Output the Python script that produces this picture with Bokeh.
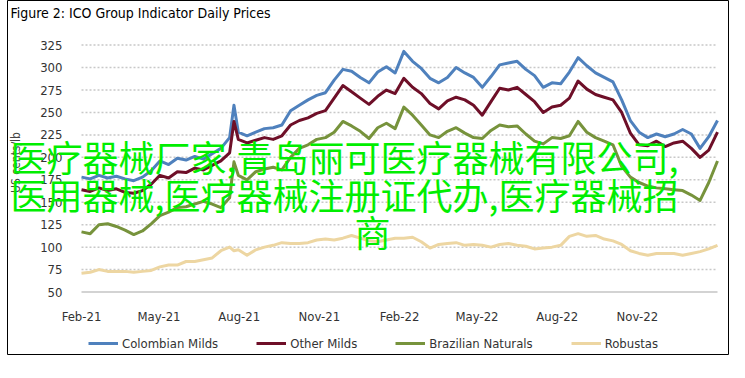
import math
import pandas as pd
from bokeh.plotting import figure
from bokeh.models import (Range1d, FixedTicker, DatetimeTickFormatter, Legend,
                          LegendItem, Label, ColumnDataSource)
from bokeh.embed import file_html
from bokeh.resources import INLINE

# ---------------- data (US cents/lb) ----------------
dates = list(pd.date_range("2021-02-01", periods=74, freq="10D"))
dates.insert(18, pd.Timestamp("2021-07-26"))

colombian_milds = [178, 176, 180, 177, 179, 176, 174, 178, 185, 196, 192, 199, 197, 201, 198, 204, 210, 222,
                   258,
                   228, 224, 228, 232, 233, 236, 252, 258, 264, 269, 272, 286, 298, 296, 289, 283, 295, 301,
                   294, 318, 307, 299, 288, 283, 289, 300, 294, 289, 278, 290, 303, 305, 307, 298, 291, 278,
                   283, 282, 295, 311, 302, 294, 289, 284, 264, 241, 228, 222, 226, 223, 226, 231, 226, 210,
                   223, 241]
other_milds = [164, 162, 166, 163, 165, 161, 160, 163, 170, 180, 177, 184, 183, 188, 186, 191, 196, 205,
               240,
               220, 216, 219, 222, 220, 224, 236, 241, 244, 249, 252, 266, 280, 273, 266, 259, 268, 275,
               271, 288, 278, 271, 260, 254, 263, 267, 264, 258, 247, 262, 277, 275, 278, 270, 262, 250,
               256, 258, 266, 285, 276, 270, 267, 264, 250, 227, 214, 213, 218, 212, 216, 218, 210, 200,
               208, 228]
brazilian_naturals = [117, 115, 125, 126, 123, 119, 114, 118, 126, 135, 139, 144, 145, 148, 151, 148, 144, 155,
                      195,
                      180, 175, 184, 187, 189, 186, 200, 210, 214, 220, 222, 228, 240, 235, 229, 221, 233, 238,
                      232, 256, 247, 236, 225, 222, 229, 233, 227, 222, 221, 230, 236, 234, 235, 226, 218, 215,
                      222, 221, 224, 240, 228, 222, 218, 214, 190, 178, 172, 168, 166, 165, 164, 163, 158, 152,
                      172, 196]
robustas = [71, 72, 75, 73, 73, 73, 72, 73, 74, 78, 80, 80, 84, 84, 86, 88, 96, 100,
            96,
            97, 91, 97, 100, 102, 105, 104, 104, 105, 108, 109, 108, 110, 113, 110, 107, 106, 108,
            110, 110, 111, 106, 99, 103, 104, 105, 102, 103, 102, 100, 103, 104, 102, 101, 98, 99,
            100, 102, 112, 115, 112, 113, 109, 107, 103, 96, 93, 91, 93, 93, 93, 91, 93, 95,
            98, 102]

series_names = ["Colombian Milds", "Other Milds", "Brazilian Naturals", "Robustas"]
series_colors = ["#4F81BD", "#6E0F28", "#77933C", "#EDD6A2"]

y_ticks = [50, 75, 100, 125, 150, 175, 200, 225, 250, 275, 300, 325]
x_tick_dates = ["2021-02-01", "2021-05-01", "2021-08-01", "2021-11-01",
                "2022-02-01", "2022-05-01", "2022-08-01", "2022-11-01"]
x_start, x_end = pd.Timestamp("2021-02-01"), pd.Timestamp("2023-02-01")
y_min, y_max = 50, 325

title_text = "Figure 2: ICO Group Indicator Daily Prices"
y_label = "US cents/lb"
overlay_lines = ["医疗器械厂家,青岛丽可医疗器械有限公司,",
                 "医用器械,医疗器械注册证代办,医疗器械招",
                 "商"]

# ---------------- layout geometry (canvas pixels) ----------------
FONT = "'Liberation Sans Narrow', 'DejaVu Sans Condensed', Roboto"
CJK = "Noto Sans CJK SC"
GREEN = "#00ee00"
W, H = 729, 362
FL, FR, FT, FB = 7, 729, 0, 357          # frame box (nearly the whole canvas, so texts are not clipped)
PL, PR, PT, PB = 81, 717, 45, 294        # data area (reference position)
Y_LABEL_RIGHT = 68                       # right edge of y tick labels
X_LABEL_TOP = 305                        # top of x tick labels

px_per_day = (PR - PL) / (x_end - x_start).days
px_per_unit = (PB - PT) / (y_max - y_min)
x_lo = x_start - pd.Timedelta(days=(PL - FL) / px_per_day)
x_hi = x_end + pd.Timedelta(days=(FR - PR) / px_per_day)
y_lo = y_min - (FB - PB) / px_per_unit
y_hi = y_max + (PT - FT) / px_per_unit

p = figure(width=W, height=H, x_axis_type="datetime", output_backend="svg",
           toolbar_location=None, min_border_left=FL, min_border_right=W - FR,
           min_border_top=FT, min_border_bottom=H - FB)
p.x_range = Range1d(x_lo, x_hi)
p.y_range = Range1d(y_lo, y_hi)
p.outline_line_color = "black"
p.outline_line_width = 1
p.background_fill_color = "white"
p.border_fill_color = "white"
p.xgrid.grid_line_color = None
p.ygrid.grid_line_color = None

# dotted gridlines and solid base line, limited to the data area
grid_y = y_ticks[1:]
p.segment(x0=[x_start] * len(grid_y), x1=[x_end] * len(grid_y), y0=grid_y, y1=grid_y,
          line_color="#c8c8c8", line_dash="2 2", line_width=1.5, level="underlay")
p.segment(x0=[x_start], x1=[x_end], y0=[y_min], y1=[y_min],
          line_color="#c4c4c4", line_width=1.5, level="underlay")

src = ColumnDataSource(dict(date=dates, cm=colombian_milds, om=other_milds,
                            bn=brazilian_naturals, rb=robustas))
renderers = []
for col, color in zip(["cm", "om", "bn", "rb"], series_colors):
    r = p.line("date", col, source=src, line_color=color, line_width=3, line_join="round")
    renderers.append(r)

# axes
tick_ms = [pd.Timestamp(d).value // 10**6 for d in x_tick_dates]
p.xaxis.ticker = FixedTicker(ticks=tick_ms)
fmt = "%b-%y"
p.xaxis.formatter = DatetimeTickFormatter(months=fmt, days=fmt, years=fmt, hours=fmt,
                                          minutes=fmt, seconds=fmt, milliseconds=fmt,
                                          microseconds=fmt, minsec=fmt, hourmin=fmt)
p.yaxis.ticker = FixedTicker(ticks=y_ticks)
for ax in (p.xaxis, p.yaxis):
    ax.major_tick_line_color = None
    ax.minor_tick_line_color = None
    ax.axis_line_color = None
    ax.major_label_text_font = FONT
    ax.major_label_text_font_size = "13px"
    ax.major_label_text_color = "#333333"
    ax.axis_label = " "                       # invisible spacer that keeps the side panel small
    ax.axis_label_text_font_size = "10px"

# tick labels are pulled back into the frame to their reference positions
p.yaxis.major_label_standoff = FL - Y_LABEL_RIGHT
p.yaxis.axis_label_standoff = 22
p.xaxis.major_label_standoff = X_LABEL_TOP - FB
p.xaxis.axis_label_standoff = 22

# legend (inside the wide frame, below the data area)
legend = Legend(items=[LegendItem(label=n, renderers=[r]) for n, r in zip(series_names, renderers)],
                orientation="horizontal", location=(88 - FL, FB - 356))
legend.label_text_font = FONT
legend.label_text_font_size = "13px"
legend.label_text_color = "#333333"
legend.glyph_width = 30
legend.glyph_height = 20
legend.label_height = 20
legend.label_standoff = 4
legend.spacing = 38
legend.padding = 0
legend.margin = 0
legend.border_line_alpha = 0
legend.background_fill_alpha = 0
p.add_layout(legend)

# title and y-axis title (screen positions relative to the frame's bottom-left)
p.add_layout(Label(x=10 - FL, y=FB - 15, x_units="screen", y_units="screen", text=title_text,
                   text_font=FONT, text_font_size="14px", text_color="black",
                   text_baseline="alphabetic", text_align="left"))
p.add_layout(Label(x=15 - FL, y=FB - 165, x_units="screen", y_units="screen", text=y_label,
                   angle=math.pi / 2, text_font=FONT, text_font_size="12px", text_color="#444444",
                   text_baseline="middle", text_align="center"))

# overlay text
for txt, xx, yy, align in [(overlay_lines[0], 10 - FL, FB - 158, "left"),
                           (overlay_lines[1], 10 - FL, FB - 196, "left"),
                           (overlay_lines[2], 372 - FL, FB - 233, "center")]:
    p.add_layout(Label(x=xx, y=yy, x_units="screen", y_units="screen", text=txt,
                       text_font=CJK, text_font_size="36px", text_color=GREEN,
                       text_baseline="middle", text_align=align, level="overlay"))

open("out.html", "w").write(file_html(p, INLINE))
